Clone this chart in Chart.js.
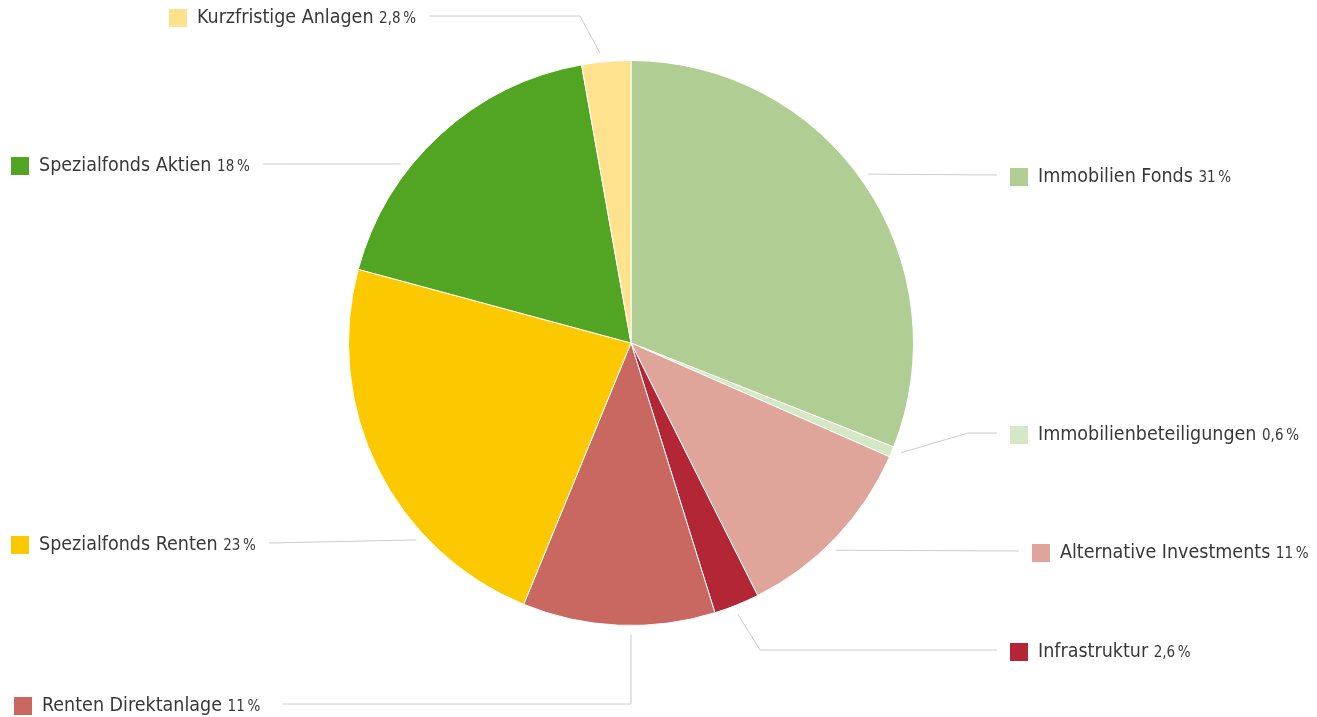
<!DOCTYPE html>
<html>
<head>
<meta charset="utf-8">
<script src="https://cdn.jsdelivr.net/npm/chart.js@4/dist/chart.umd.min.js"></script>
<style>
  html, body { margin: 0; padding: 0; background: #fff; }
  #wrap { width: 1317px; height: 717px; position: relative; }
</style>
</head>
<body>
<div id="wrap"><canvas id="kuchen" width="1317" height="717"></canvas></div>
<script>
// Daten
const kategorien = ["Immobilien Fonds", "Immobilienbeteiligungen", "Alternative Investments", "Infrastruktur",
  "Renten Direktanlage", "Spezialfonds Renten", "Spezialfonds Aktien", "Kurzfristige Anlagen"];
const anteile = [31, 0.6, 11, 2.6, 11, 23, 18, 2.8];
const anteilText = ["31", "0,6", "11", "2,6", "11", "23", "18", "2,8"];
const farben = ["#b0ce94", "#d5e8c5", "#dfa59b", "#b22635", "#c96761", "#fcc800", "#52a423", "#fee28e"];

// Lage der Beschriftungen (Winkel des Ansatzpunkts in Grad ab 12 Uhr, Seite, Kasten-x, Zeile-y, Knick-x)
const beschriftung = [
  {winkel: 54.6, seite: "r", x: 1010, y: 177},
  {winkel: 112.1, seite: "r", x: 1010, y: 435, knick: 968},
  {winkel: 135.3, seite: "r", x: 1032, y: 553},
  {winkel: 158.5, seite: "r", x: 1010, y: 652, knick: 760},
  {winkel: 180, seite: "l", x: 14, y: 706, senkrecht: true},
  {winkel: 227.5, seite: "l", x: 11, y: 545},
  {winkel: 307.9, seite: "l", x: 11, y: 166},
  {winkel: 353.9, seite: "l", x: 169, y: 18, knick: 580}
];

const schrift = '"Liberation Sans Narrow", "DejaVu Sans Condensed", "Roboto", sans-serif';

const beschriftungPlugin = {
  id: "beschriftung",
  afterDraw(chart) {
    const ctx = chart.ctx;
    const arc = chart.getDatasetMeta(0).data[0];
    const cx = arc.x, cy = arc.y, r = arc.outerRadius + 9;
    ctx.save();
    beschriftung.forEach((b, i) => {
      const w = b.winkel * Math.PI / 180;
      const ax = cx + r * Math.sin(w), ay = cy - r * Math.cos(w);
      const ly = b.y - 2;
      // Text messen
      ctx.font = "19.5px " + schrift;
      const nameW = ctx.measureText(kategorien[i] + " ").width;
      ctx.font = "15px " + schrift;
      const pctW = ctx.measureText(anteilText[i] + "\u2009%").width;
      const textX = b.x + 28;
      const textEnde = textX + nameW + pctW;

      ctx.strokeStyle = "#cccccc";
      ctx.lineWidth = 1;
      ctx.beginPath();
      if (b.seite === "r") {
        ctx.moveTo(ax, ay);
        if (b.knick) ctx.lineTo(b.knick, ly);
        ctx.lineTo(b.x - 13, ly);
      } else if (b.senkrecht) {
        ctx.moveTo(cx, ay);
        ctx.lineTo(cx, ly);
        ctx.lineTo(textEnde + 22, ly);
      } else {
        ctx.moveTo(ax, ay);
        if (b.knick) ctx.lineTo(b.knick, ly);
        ctx.lineTo(textEnde + 13, ly);
      }
      ctx.stroke();

      // Kasten
      ctx.fillStyle = farben[i];
      ctx.fillRect(b.x, b.y - 9, 18, 18);

      // Text
      ctx.fillStyle = "#383838";
      ctx.textBaseline = "middle";
      ctx.textAlign = "left";
      ctx.font = "19.5px " + schrift;
      ctx.fillText(kategorien[i] + " ", textX, b.y);
      ctx.font = "15px " + schrift;
      ctx.fillText(anteilText[i] + "\u2009%", textX + nameW, b.y + 1.5);
    });
    ctx.restore();
  }
};

new Chart(document.getElementById("kuchen").getContext("2d"), {
  type: "pie",
  data: {
    labels: kategorien,
    datasets: [{
      data: anteile,
      backgroundColor: farben,
      borderColor: "#ffffff",
      borderWidth: 1
    }]
  },
  options: {
    responsive: false,
    animation: false,
    layout: { padding: { left: 348, right: 403, top: 60, bottom: 91 } },
    plugins: {
      legend: { display: false },
      tooltip: { enabled: false }
    }
  },
  plugins: [beschriftungPlugin]
});
</script>
</body>
</html>
